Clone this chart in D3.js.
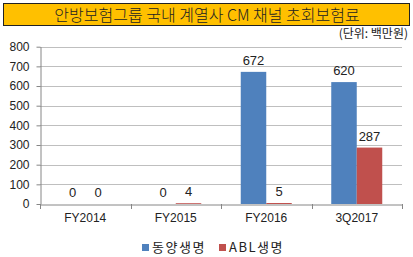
<!DOCTYPE html>
<html>
<head>
<meta charset="utf-8">
<script src="https://cdn.jsdelivr.net/npm/d3@7"></script>
<style>
  body { margin: 0; background: #fff; }
  svg { display: block; font-family: "Noto Sans CJK KR", "Noto Sans", sans-serif; }
</style>
</head>
<body>
<svg id="chart" width="413" height="257"></svg>
<script>
// Chart data
var categories = ['FY2014', 'FY2015', 'FY2016', '3Q2017']
var seriesNames = ['동양생명', 'ABL생명']
var dongyang = [0, 0, 672, 620]
var abl = [0, 4, 5, 287]
var yTicks = [0, 100, 200, 300, 400, 500, 600, 700, 800]
var colors = ['#4F81BD', '#C0504D']

var svg = d3.select('#chart')

// Title box
svg.append('rect')
  .attr('x', 3.5).attr('y', 3.5)
  .attr('width', 406).attr('height', 22)
  .attr('fill', '#FFC000')
  .attr('stroke', '#222')
  .attr('stroke-width', 1)

svg.append('text')
  .attr('x', 207).attr('y', 20.5)
  .attr('text-anchor', 'middle')
  .attr('font-size', 16)
  .attr('font-weight', 300)
  .attr('fill', '#222')
  .text('안방보험그룹 국내 계열사 CM 채널 초회보험료')

svg.append('text')
  .attr('x', 408).attr('y', 38)
  .attr('text-anchor', 'end')
  .attr('font-size', 12)
  .attr('fill', '#222')
  .text('(단위: 백만원)')

// Scales (plot box)
var pLeft = 40, pRight = 402, pTop = 46.7, pBottom = 204

var x = d3.scaleBand()
  .domain(categories)
  .range([pLeft, pRight])

var x1 = d3.scaleBand()
  .domain(seriesNames)
  .range([0, 51])

var y = d3.scaleLinear()
  .domain([0, 800])
  .range([pBottom, pTop])

// Gridlines
svg.append('g')
  .selectAll('line')
  .data(yTicks.filter(d => d > 0))
  .join('line')
  .attr('x1', pLeft).attr('x2', pRight)
  .attr('y1', d => Math.round(y(d)) + 0.5)
  .attr('y2', d => Math.round(y(d)) + 0.5)
  .attr('stroke', '#bfbfbf')

// Y axis
var yAxis = svg.append('g')
  .attr('transform', 'translate(' + (pLeft + 0.5) + ',0)')
  .call(d3.axisLeft(y).tickValues(yTicks).tickSize(4).tickPadding(7).tickSizeOuter(0))
yAxis.select('.domain').attr('stroke', '#868686')
yAxis.selectAll('.tick line').attr('stroke', '#868686')
yAxis.selectAll('text').attr('font-size', 12).attr('fill', '#222')
  .attr('font-family', '"Liberation Sans", Arial, sans-serif')

// X axis
var xAxis = svg.append('g')
  .attr('transform', 'translate(0,' + (Math.round(pBottom) + 0.5) + ')')
  .call(d3.axisBottom(x).tickSize(0).tickPadding(9).tickSizeOuter(0))
xAxis.select('.domain').attr('stroke', '#868686')
xAxis.selectAll('text').attr('font-size', 12).attr('fill', '#222')
  .attr('font-family', '"Liberation Sans", Arial, sans-serif')

// Category boundary ticks
svg.append('g')
  .selectAll('line')
  .data(d3.range(categories.length + 1))
  .join('line')
  .attr('x1', i => Math.round(pLeft + i * x.bandwidth()) + 0.5)
  .attr('x2', i => Math.round(pLeft + i * x.bandwidth()) + 0.5)
  .attr('y1', pBottom).attr('y2', pBottom + 5)
  .attr('stroke', '#868686')

// Bars
var rows = categories.map((c, i) => ({cat: c, vals: [dongyang[i], abl[i]]}))

var groups = svg.append('g')
  .selectAll('g')
  .data(rows)
  .join('g')
  .attr('transform', d => 'translate(' + (x(d.cat) + (x.bandwidth() - 51) / 2) + ',0)')

groups.selectAll('rect')
  .data(d => d.vals.map((v, j) => ({name: seriesNames[j], v: v, j: j})))
  .join('rect')
  .attr('x', d => x1(d.name))
  .attr('width', x1.bandwidth())
  .attr('y', d => y(d.v))
  .attr('height', d => Math.max(0, y(0) - y(d.v)))
  .attr('fill', d => colors[d.j])

groups.selectAll('text')
  .data(d => d.vals.map((v, j) => ({name: seriesNames[j], v: v})))
  .join('text')
  .attr('x', d => x1(d.name) + x1.bandwidth() / 2)
  .attr('y', d => y(d.v) - 7)
  .attr('text-anchor', 'middle')
  .attr('font-size', 13)
  .attr('fill', '#222')
  .attr('font-family', '"Liberation Sans", Arial, sans-serif')
  .text(d => d.v)

// Legend
var legend = svg.append('g')
  .selectAll('g')
  .data(seriesNames)
  .join('g')
  .attr('transform', (d, i) => 'translate(' + [142, 219][i] + ',244)')

legend.append('rect')
  .attr('width', 7).attr('height', 7)
  .attr('fill', (d, i) => colors[i])

legend.append('text')
  .attr('x', 10).attr('y', 8)
  .attr('font-size', 13)
  .attr('letter-spacing', 1.5)
  .attr('fill', '#222')
  .text(d => d)
</script>
</body>
</html>
